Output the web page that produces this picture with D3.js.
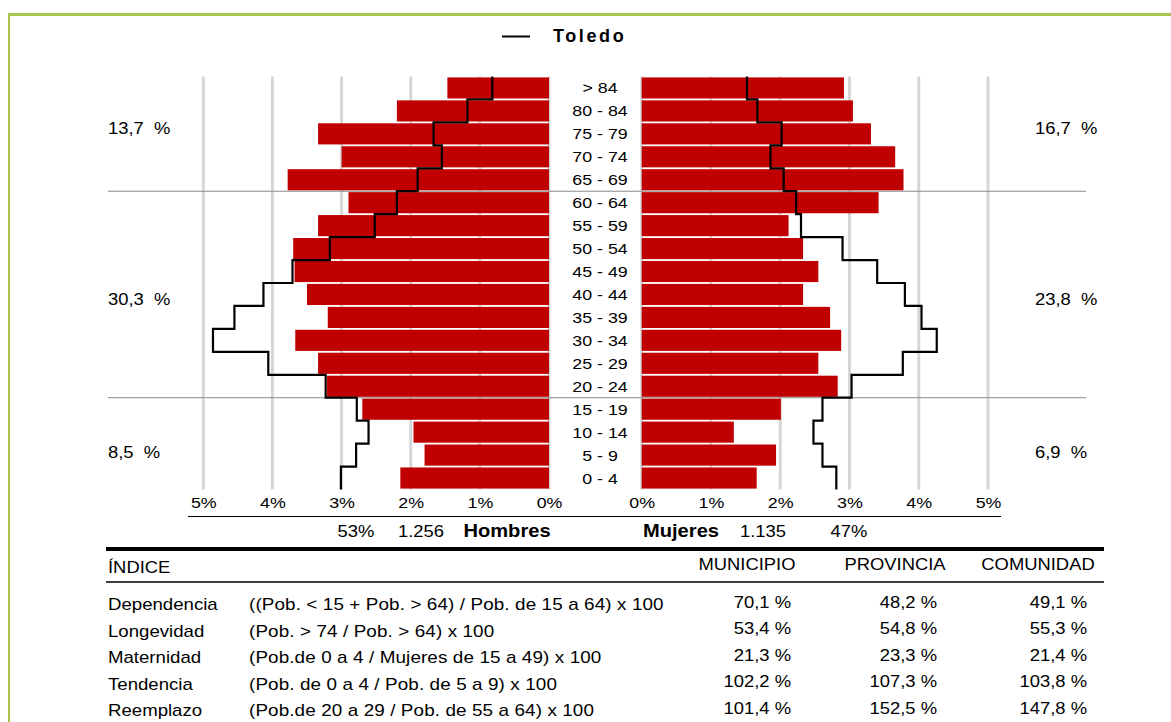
<!DOCTYPE html>
<html>
<head>
<meta charset="utf-8">
<script src="https://cdn.jsdelivr.net/npm/d3@7"></script>
<style>
  body { margin: 0; background: #fff; }
  svg { display: block; font-family: "Liberation Sans", Arial, sans-serif; }
</style>
</head>
<body>
<svg id="chart" width="1171" height="722"></svg>
<script>
// age groups, top to bottom
var ages = ["> 84", "80 - 84", "75 - 79", "70 - 74", "65 - 69", "60 - 64", "55 - 59", "50 - 54",
    "45 - 49", "40 - 44", "35 - 39", "30 - 34", "25 - 29", "20 - 24", "15 - 19", "10 - 14", "5 - 9", "0 - 4"];

// municipality (bars), % of total population
var hombres = [1.47, 2.20, 3.34, 3.00, 3.78, 2.90, 3.34, 3.70, 3.68, 3.50, 3.20, 3.67, 3.34, 3.21, 2.70, 1.96, 1.80, 2.15];
var mujeres = [2.92, 3.05, 3.31, 3.66, 3.78, 3.42, 2.12, 2.33, 2.55, 2.33, 2.72, 2.88, 2.55, 2.83, 2.01, 1.33, 1.94, 1.66];

// Toledo province (step line)
var toledoH = [0.82, 1.18, 1.67, 1.55, 1.90, 2.20, 2.52, 3.17, 3.71, 4.13, 4.55, 4.86, 4.06, 3.23, 2.78, 2.61, 2.79, 3.01];
var toledoM = [1.52, 1.67, 2.02, 1.86, 2.05, 2.23, 2.30, 2.90, 3.40, 3.80, 4.04, 4.26, 3.77, 3.03, 2.61, 2.48, 2.61, 2.81];

var ticks = [0, 1, 2, 3, 4, 5];
var groupsH = ["13,7  %", "30,3  %", "8,5  %"];
var groupsM = ["16,7  %", "23,8  %", "6,9  %"];
var groupRows = [[0, 4], [5, 13], [14, 17]];
var totalsH = ["53%", "1.256"];
var totalsM = ["1.135", "47%"];

var indices = ["Dependencia", "Longevidad", "Maternidad", "Tendencia", "Reemplazo"];
var formulas = ["((Pob. < 15 + Pob. > 64) / Pob. de 15 a 64) x 100",
    "(Pob. > 74 / Pob. > 64) x 100",
    "(Pob.de 0 a 4 / Mujeres de 15 a 49) x 100",
    "(Pob. de 0 a 4 / Pob. de 5 a 9) x 100",
    "(Pob.de 20 a 29 / Pob. de 55 a 64) x 100"];
var municipio = ["70,1 %", "53,4 %", "21,3 %", "102,2 %", "101,4 %"];
var provincia = ["48,2 %", "54,8 %", "23,3 %", "107,3 %", "152,5 %"];
var comunidad = ["49,1 %", "55,3 %", "21,4 %", "103,8 %", "147,8 %"];

var svg = d3.select("#chart");
var red = "#c00000";
var SX = 1.15; // the source text is drawn a bit wide

// text helper: position by translate, stretch horizontally
function txt(parent, x, y, str, size, anchor, bold) {
    return parent.append("text")
        .attr("transform", "translate(" + x + "," + y + ") scale(" + SX + ",1)")
        .attr("font-size", size || 16)
        .attr("text-anchor", anchor || "start")
        .attr("font-weight", bold ? "bold" : null)
        .style("white-space", "pre")
        .text(str);
}

// frame
svg.append("line").attr("x1", 8).attr("x2", 1171).attr("y1", 14.5).attr("y2", 14.5)
    .attr("stroke", "#a9c44c").attr("stroke-width", 3);
svg.append("line").attr("x1", 9).attr("x2", 9).attr("y1", 14).attr("y2", 722)
    .attr("stroke", "#a9c44c").attr("stroke-width", 2);

// legend
svg.append("line").attr("x1", 502).attr("x2", 530).attr("y1", 36.5).attr("y2", 36.5)
    .attr("stroke", "#000").attr("stroke-width", 2);
svg.append("text").attr("x", 553).attr("y", 42).attr("font-size", 18).attr("font-weight", "bold")
    .attr("letter-spacing", 2.6).text("Toledo");

var y = d3.scaleBand().domain(ages).range([76.5, 489.5]).paddingInner(0.08).paddingOuter(0.04);
var step = y.step();
var xL = d3.scaleLinear().domain([0, 5]).range([549, 203.3]);
var xR = d3.scaleLinear().domain([0, 5]).range([641.7, 988]);
var top0 = y.range()[0], bot0 = y.range()[1];

// gridlines
[xL, xR].forEach(function(x) {
    svg.append("g").selectAll("line").data(ticks).join("line")
        .attr("x1", function(d) { return x(d); }).attr("x2", function(d) { return x(d); })
        .attr("y1", top0).attr("y2", bot0)
        .attr("stroke", "#d6d6d6").attr("stroke-width", 3);
});

// group separators
[groupRows[0][1], groupRows[1][1]].forEach(function(r) {
    var yy = top0 + (r + 1) * step;
    svg.append("line").attr("x1", 108).attr("x2", 1086).attr("y1", yy).attr("y2", yy)
        .attr("stroke", "#8a8a8a").attr("stroke-width", 1);
});

// bars
svg.append("g").selectAll("rect").data(hombres).join("rect")
    .attr("x", function(d) { return xL(d); })
    .attr("y", function(d, i) { return y(ages[i]); })
    .attr("width", function(d) { return xL(0) - xL(d); })
    .attr("height", y.bandwidth())
    .attr("fill", red);
svg.append("g").selectAll("rect").data(mujeres).join("rect")
    .attr("x", xR(0))
    .attr("y", function(d, i) { return y(ages[i]); })
    .attr("width", function(d) { return xR(d) - xR(0); })
    .attr("height", y.bandwidth())
    .attr("fill", red);

// step lines
function stepPath(vals, x) {
    var pts = [];
    vals.forEach(function(v, i) {
        pts.push([x(v), top0 + i * step]);
        pts.push([x(v), top0 + (i + 1) * step]);
    });
    return d3.line()(pts);
}
svg.append("path").attr("d", stepPath(toledoH, xL)).attr("fill", "none")
    .attr("stroke", "#000").attr("stroke-width", 2.2);
svg.append("path").attr("d", stepPath(toledoM, xR)).attr("fill", "none")
    .attr("stroke", "#000").attr("stroke-width", 2.2);

// age labels
var ageG = svg.append("g");
ages.forEach(function(a) {
    txt(ageG, 600, y(a) + y.bandwidth() / 2 + 5.5, a, 15.5, "middle");
});

// group shares (label rows, in row units from the top)
var groupLabelRow = [2.28, 9.74, 16.4];
groupRows.forEach(function(g, i) {
    var yy = top0 + groupLabelRow[i] * step + 5.5;
    txt(svg, 108, yy, groupsH[i], 16);
    txt(svg, 1035, yy, groupsM[i], 16);
});

// axes
[xL, xR].forEach(function(x) {
    var a = svg.append("g").attr("transform", "translate(0,516)")
        .call(d3.axisTop(x).tickValues(ticks).tickSize(0).tickPadding(8).tickFormat(function(d) { return d + "%"; }));
    a.select(".domain").remove();
    a.selectAll("text").attr("font-size", 15.5).attr("font-family", null).attr("fill", "#000")
        .attr("transform", "scale(" + SX + ",1)");
});
svg.append("line").attr("x1", 188).attr("x2", 1001).attr("y1", 516.5).attr("y2", 516.5)
    .attr("stroke", "#000").attr("stroke-width", 1);

// totals
txt(svg, 356, 537, totalsH[0], 16, "middle");
txt(svg, 421, 537, totalsH[1], 16, "middle");
txt(svg, 507, 537, "Hombres", 17.5, "middle", true);
txt(svg, 681, 537, "Mujeres", 17.5, "middle", true);
txt(svg, 763, 537, totalsM[0], 16, "middle");
txt(svg, 849, 537, totalsM[1], 16, "middle");

// table
svg.append("line").attr("x1", 106).attr("x2", 1104).attr("y1", 549).attr("y2", 549)
    .attr("stroke", "#000").attr("stroke-width", 4);
svg.append("line").attr("x1", 106).attr("x2", 1104).attr("y1", 582).attr("y2", 582)
    .attr("stroke", "#000").attr("stroke-width", 1.5);
txt(svg, 108, 573, "ÍNDICE", 16);
[["MUNICIPIO", 747], ["PROVINCIA", 895], ["COMUNIDAD", 1038]].forEach(function(h) {
    txt(svg, h[1], 570, h[0], 16, "middle");
});

var rowY = d3.scalePoint().domain(indices).range([604, 710]);
var tbl = svg.append("g");
indices.forEach(function(d, i) {
    var yy = rowY(d);
    txt(tbl, 108, yy + 6, d, 16.2);
    txt(tbl, 249, yy + 6, formulas[i], 16.4).attr("letter-spacing", 0.1);
    txt(tbl, 791, yy + 3.5, municipio[i], 16, "end");
    txt(tbl, 937, yy + 3.5, provincia[i], 16, "end");
    txt(tbl, 1087, yy + 3.5, comunidad[i], 16, "end");
});
</script>
</body>
</html>
